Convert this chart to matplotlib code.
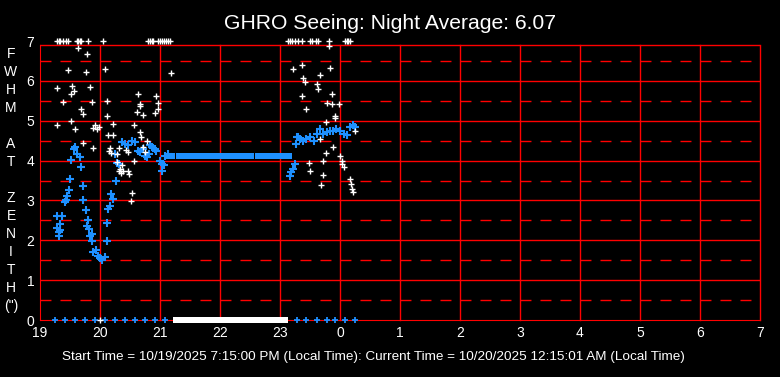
import numpy as np
import matplotlib.pyplot as plt
from matplotlib.path import Path

plt.rcParams['font.family'] = ['Liberation Sans', 'DejaVu Sans']

# times are hours of the night (24 = midnight), values are FWHM in arcsec
raw_t = [19.28, 19.29, 19.39, 19.47, 19.51, 19.52, 19.54, 19.56, 19.59, 19.63,
         19.69, 19.71, 19.72, 19.76, 19.78, 19.84, 19.86, 19.88, 19.89, 19.92,
         19.95, 19.98, 20.09, 20.11, 20.12, 20.14, 20.15, 20.17, 20.19, 20.21,
         20.22, 20.28, 20.29, 20.31, 20.31, 20.33, 20.35, 20.37, 20.39, 20.43,
         20.46, 20.47, 20.49, 20.51, 20.53, 20.56, 20.57, 20.61, 20.64, 20.67,
         20.67, 20.67, 20.69, 20.72, 20.72, 20.75, 20.78, 20.91, 20.94, 20.96,
         20.97, 21.19,
         23.22, 23.36, 23.37, 23.39, 23.42, 23.44, 23.48, 23.50, 23.62, 23.64,
         23.66, 23.67, 23.69, 23.71, 23.72, 23.76, 23.77, 23.79, 23.82, 23.84,
         23.86, 23.87, 23.89, 23.91, 23.92, 23.98, 24.00, 24.03, 24.04, 24.06,
         24.17, 24.18, 24.20, 24.22, 24.25]
raw_v = [4.88, 5.82, 5.48, 6.27, 5.00, 5.67, 5.88, 5.75, 4.78, 6.82,
         5.29, 5.17, 4.44, 6.23, 6.67, 5.84, 5.48, 4.32, 4.82, 4.90,
         4.78, 4.85, 6.29, 5.49, 5.13, 4.63, 4.23, 4.32, 4.18, 4.92,
         4.63, 4.17, 3.96, 4.32, 3.75, 3.79, 3.69, 3.88, 3.75, 4.27,
         4.21, 3.75, 3.67, 2.98, 3.19, 4.00, 4.88, 5.22, 5.67, 5.42,
         5.36, 4.71, 4.60, 5.15, 4.33, 4.21, 4.48, 5.19, 5.63, 5.44,
         5.29, 6.19,
         6.29, 5.62, 6.39, 6.07, 5.98, 5.29, 3.94, 3.74, 5.92, 5.79,
         6.14, 4.54, 3.39, 3.64, 3.98, 4.19, 4.98, 5.44, 6.88, 6.32,
         5.67, 5.42, 4.34, 5.12, 5.08, 5.42, 4.12, 4.00, 3.92, 3.83,
         3.54, 3.42, 3.29, 3.21, 4.75]

# readings pinned at the top of the scale
raw_top_t = [19.28, 19.31, 19.34, 19.39, 19.43, 19.47, 19.61, 19.64, 19.67, 19.69,
             19.80, 20.05, 20.80, 20.83, 20.87, 20.89, 20.97, 21.00, 21.03, 21.06,
             21.10, 21.14, 21.17, 23.14, 23.17, 23.20, 23.25, 23.30, 23.36, 23.50,
             23.53, 23.60, 23.64, 23.81, 24.08, 24.11, 24.14, 24.17]
raw_top_v = [7.0] * len(raw_top_t)

# readings at zero (dense run in the middle of the night)
raw_zero_t = [20.0, 21.30, 21.46, 21.62, 21.78, 21.94, 22.10, 22.26, 22.42,
              22.58, 22.74, 22.90, 23.05]
raw_zero_v = [0.0] * len(raw_zero_t)

avg_t = [19.28, 19.29, 19.31, 19.32, 19.33, 19.34, 19.37, 19.41, 19.44, 19.45,
         19.49, 19.50, 19.52, 19.56, 19.58, 19.61, 19.66, 19.68, 19.71, 19.72,
         19.76, 19.78, 19.80, 19.82, 19.83, 19.86, 19.87, 19.89, 19.93, 19.97,
         20.00, 20.03, 20.08, 20.11, 20.12, 20.14, 20.17, 20.19, 20.21, 20.25,
         20.26, 20.28, 20.31, 20.36, 20.42, 20.47, 20.53, 20.58, 20.64, 20.67,
         20.72, 20.75, 20.78, 20.81, 20.83, 20.86, 20.89, 20.92, 20.94, 21.00,
         21.03, 21.03, 21.06, 21.08, 21.13,
         23.17, 23.19, 23.22, 23.25, 23.27, 23.28, 23.30, 23.33, 23.39, 23.44,
         23.50, 23.56, 23.61, 23.67, 23.72, 23.78, 23.83, 23.89, 23.94, 24.00,
         24.06, 24.11, 24.17, 24.22, 24.25]
avg_v = [2.62, 2.30, 2.10, 2.21, 2.25, 2.42, 2.62, 2.95, 3.00, 3.10,
         3.27, 3.54, 4.02, 4.29, 4.33, 4.17, 4.08, 3.83, 3.37, 3.00,
         2.75, 2.35, 2.52, 2.28, 2.12, 2.17, 1.98, 1.71, 1.75, 1.60,
         1.55, 1.50, 1.57, 1.98, 2.43, 2.79, 2.87, 3.17, 3.04, 4.17,
         3.48, 3.94, 3.92, 4.46, 4.42, 4.38, 4.50, 4.46, 4.25, 4.21,
         4.29, 4.12, 4.08, 4.17, 4.38, 4.33, 4.31, 4.29, 4.25, 4.00,
         3.92, 3.75, 3.88, 4.12, 4.17,
         3.62, 3.71, 3.79, 3.92, 4.42, 4.60, 4.58, 4.54, 4.50, 4.54,
         4.58, 4.50, 4.67, 4.79, 4.67, 4.71, 4.75, 4.75, 4.79, 4.75,
         4.67, 4.63, 4.83, 4.88, 4.83]

# flat stretch of the average while readings were zero
flat_t = [21.17, 21.35, 21.50, 21.66, 21.83, 22.00, 22.16, 22.33, 22.49,
          22.66, 22.83, 22.99, 23.12]
flat_v = [4.12] * len(flat_t)

avg_zero_t = [19.25, 19.42, 19.58, 19.75, 19.92, 20.08, 20.25, 20.42, 20.58,
              20.75, 20.92, 21.08, 23.28, 23.44, 23.61, 23.78, 23.92, 24.08, 24.25]
avg_zero_v = [0.0] * len(avg_zero_t)

hour_ticks = list(range(19, 32))
hour_labels = ['19', '20', '21', '22', '23', '0', '1', '2', '3', '4', '5', '6', '7']

title = 'GHRO Seeing: Night Average: 6.07'
footer = ('Start Time = 10/19/2025 7:15:00 PM (Local Time): '
          'Current Time = 10/20/2025 12:15:01 AM (Local Time)')
ylabel_lines = ['F', 'W', 'H', 'M', '', 'A', 'T', '', 'Z', 'E', 'N', 'I', 'T', 'H', '(")']

W, H = 780, 377
fig = plt.figure(figsize=(W / 100, H / 100), dpi=100, facecolor='black')
ax = fig.add_axes([40 / W, 1 - 320 / H, 720 / W, 279 / H])
ax.set_facecolor('black')
ax.set_xlim(19, 31)
ax.set_ylim(0, 7)

top = 6.9
red = '#ff0000'
ax.spines['top'].set_visible(False)
ax.spines['right'].set_visible(False)
ax.spines['left'].set_bounds(0, top)
ax.spines['left'].set_color(red)
ax.spines['bottom'].set_color(red)

for h in hour_ticks[1:]:
    ax.axvline(h, ymax=top / 7, color=red, lw=1, zorder=1, clip_on=False)
for v in range(1, 7):
    ax.axhline(v, color=red, lw=1, zorder=1)
ax.axhline(top, color=red, lw=1, zorder=1)
for v in np.arange(0.5, 7, 1.0):
    ax.axhline(v, color=red, lw=1, ls=(0, (7.9, 6.5)), zorder=1)

ax.set_xticks(hour_ticks, hour_labels)
ax.set_yticks(range(8))
ax.tick_params(length=0, colors='white', labelsize=10)
ax.tick_params(axis='x', pad=4.5)
ax.tick_params(axis='y', pad=4)

blue = '#1e90ff'
block = Path([(-1, -0.6), (1, -0.6), (1, 0.6), (-1, 0.6), (-1, -0.6)],
             [Path.MOVETO, Path.LINETO, Path.LINETO, Path.LINETO, Path.CLOSEPOLY])

ax.plot(avg_t, avg_v, '+', color=blue, ms=5.2, mew=1.5, clip_on=False, zorder=3)
ax.plot(avg_zero_t, avg_zero_v, '+', color=blue, ms=5, mew=1.3, clip_on=False, zorder=3)
ax.plot(flat_t, flat_v, ls='none', marker=block, color=blue, ms=6.5, mew=0, zorder=3)

ax.plot(raw_t, raw_v, '+', color='white', ms=4.5, mew=1, clip_on=False, zorder=4)
ax.plot(raw_top_t, raw_top_v, '+', color='white', ms=4.5, mew=1, clip_on=False, zorder=4)
ax.plot(raw_zero_t[:1], raw_zero_v[:1], '+', color='white', ms=4.5, mew=1, clip_on=False, zorder=4)
ax.plot(raw_zero_t[1:], raw_zero_v[1:], ls='none', marker=block, color='white',
        ms=7.2, mew=0, clip_on=False, zorder=4)

fig.text(0.5, 1 - 29 / H, title, color='white', fontsize=15.2, ha='center', va='baseline')
fig.text(62 / W, 1 - 360 / H, footer, color='white', fontsize=9.7, ha='left', va='baseline')
for i, ch in enumerate(ylabel_lines):
    fig.text(11 / W, 1 - (58.3 + i * 18) / H, ch, color='white', fontsize=10,
             ha='center', va='baseline')

fig.savefig('out.png', dpi=100, facecolor='black')
